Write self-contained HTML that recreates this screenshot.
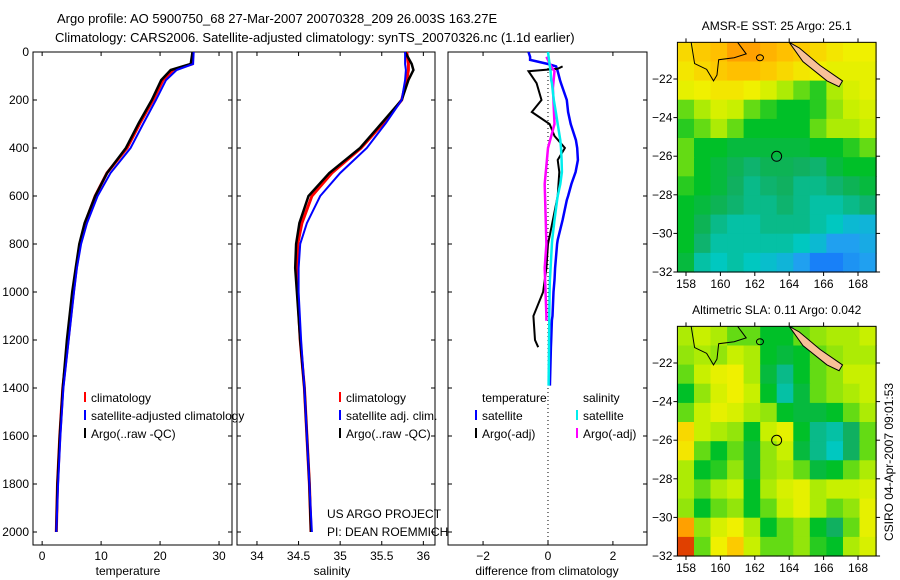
<!DOCTYPE html>
<html><head><meta charset="utf-8"><style>
body{margin:0;background:#fff;}
svg{display:block;font-family:"Liberation Sans",sans-serif;}
</style></head><body>
<svg id="fig" width="900" height="580" viewBox="0 0 900 580" xmlns="http://www.w3.org/2000/svg">
<rect width="900" height="580" fill="#fff"/>
<text x="57" y="23" font-size="13">Argo profile: AO 5900750_68 27-Mar-2007 20070328_209 26.003S 163.27E</text>
<text x="55" y="42" font-size="13">Climatology: CARS2006. Satellite-adjusted climatology: synTS_20070326.nc (1.1d earlier)</text>
<g id="g"></g>
</svg>
<script>
// ---- profile data ----
const depths = [0,50,75,117,200,296,400,504,600,713,800,900,1000,1200,1400,1600,1800,2000];
const tempClim = [25.6,25.4,22.2,20.5,18.8,16.6,14.4,11.0,9.0,7.3,6.4,5.8,5.3,4.4,3.5,3.0,2.6,2.4];
const tempSat  = [25.7,25.6,22.8,21.0,19.3,17.2,15.0,11.6,9.4,7.6,6.6,5.9,5.4,4.5,3.6,3.1,2.7,2.4];
const tempArgo = [25.5,25.2,21.8,20.2,18.6,16.4,14.2,11.0,9.0,7.2,6.3,5.7,5.1,4.2,3.5,3.0,2.6,2.4];
const salClim = [35.80,35.82,35.82,35.80,35.74,35.52,35.25,34.90,34.66,34.54,34.49,34.48,34.49,34.52,34.57,34.60,34.63,34.65];
const salSat  = [35.78,35.78,35.79,35.78,35.74,35.55,35.32,35.00,34.76,34.60,34.52,34.50,34.50,34.53,34.57,34.60,34.63,34.66];
const salArgo = [35.78,35.86,35.88,35.82,35.74,35.50,35.24,34.87,34.62,34.51,34.47,34.46,34.48,34.52,34.57,34.60,34.63,34.65];
// difference panel
const diffDepths = [0,20,33,50,60,80,117,130,200,250,300,367,400,450,500,550,600,617,700,783,800,900,950,1000,1100,1117,1200,1230,1390];
const dTempSat = [-0.6,-0.55,-0.55,0.0,0.25,0.3,0.37,0.4,0.58,0.62,0.7,0.86,0.9,0.92,0.85,0.72,0.62,0.58,0.45,0.3,0.28,0.22,0.2,0.17,0.14,0.12,0.1,0.09,0.06];
const dSalSat = [0,0.02,0.03,0.05,0.06,0.08,0.1,0.12,0.18,0.24,0.3,0.38,0.4,0.42,0.43,0.38,0.3,0.28,0.2,0.13,0.12,0.08,0.06,0.05,0.04,0.04,0.03,0.03,0.02];
const argoD = [60,70,80,130,200,250,300,350,400,450,500,600,700,800,900,1000,1100,1200,1230];
const dTempArgo = [0.45,0.3,-0.6,-0.35,-0.2,-0.5,0.05,0.2,0.52,0.3,0.35,0.3,0.15,0.0,-0.05,-0.15,-0.45,-0.4,-0.3];
const salArgoD = [20,60,80,150,300,400,550,800,900,1100,1120];
const dSalArgo = [-0.05,0.1,0.2,0.15,0.2,0.0,-0.1,-0.05,-0.1,-0.05,-0.05];
const depthTicks = [0,200,400,600,800,1000,1200,1400,1600,1800,2000];
const tempTicks = [0,10,20,30];
const salTicks = [34,34.5,35,35.5,36];
const salTickLabels = ["34","34.5","35","35.5","36"];
const diffTicks = [-2,0,2];
// ---- map data (rows lat 20..31, cols lon 157.5..169) ----
const sstGrid = [
[0.75,0.78,0.8,0.85,0.85,0.82,0.8,0.78,0.75,0.72,0.7,0.7],
[0.72,0.75,0.78,0.8,0.8,0.78,0.75,0.72,0.7,0.68,0.68,0.68],
[0.68,0.7,0.72,0.72,0.7,0.65,0.6,0.55,0.52,0.6,0.65,0.68],
[0.55,0.6,0.65,0.62,0.55,0.52,0.5,0.5,0.52,0.58,0.62,0.65],
[0.52,0.55,0.6,0.55,0.5,0.5,0.5,0.5,0.55,0.6,0.6,0.62],
[0.55,0.5,0.5,0.48,0.48,0.48,0.48,0.48,0.5,0.5,0.52,0.55],
[0.55,0.5,0.48,0.46,0.44,0.46,0.46,0.45,0.44,0.48,0.5,0.5],
[0.52,0.5,0.48,0.45,0.42,0.44,0.45,0.42,0.42,0.44,0.46,0.48],
[0.5,0.48,0.46,0.44,0.42,0.42,0.44,0.42,0.4,0.4,0.42,0.44],
[0.5,0.46,0.42,0.4,0.4,0.42,0.42,0.42,0.4,0.38,0.35,0.34],
[0.5,0.44,0.4,0.4,0.4,0.4,0.4,0.38,0.35,0.3,0.3,0.32],
[0.48,0.4,0.38,0.4,0.38,0.36,0.34,0.3,0.25,0.25,0.28,0.3]];
const slaGrid = [
[0.6,0.62,0.6,0.55,0.55,0.5,0.5,0.55,0.58,0.6,0.6,0.62],
[0.58,0.6,0.58,0.62,0.6,0.5,0.48,0.5,0.55,0.58,0.6,0.6],
[0.55,0.62,0.68,0.7,0.6,0.48,0.42,0.5,0.55,0.58,0.62,0.62],
[0.5,0.58,0.65,0.7,0.62,0.5,0.4,0.48,0.55,0.58,0.6,0.62],
[0.55,0.62,0.68,0.65,0.6,0.58,0.5,0.48,0.48,0.5,0.55,0.6],
[0.75,0.62,0.6,0.58,0.5,0.62,0.68,0.5,0.42,0.4,0.45,0.55],
[0.72,0.55,0.5,0.55,0.48,0.58,0.62,0.48,0.42,0.38,0.45,0.55],
[0.6,0.5,0.52,0.58,0.48,0.58,0.6,0.55,0.48,0.5,0.55,0.6],
[0.6,0.55,0.6,0.62,0.5,0.6,0.65,0.68,0.6,0.62,0.62,0.65],
[0.58,0.5,0.55,0.58,0.5,0.55,0.62,0.68,0.6,0.55,0.58,0.68],
[0.85,0.58,0.65,0.7,0.6,0.5,0.55,0.58,0.5,0.45,0.55,0.68],
[0.95,0.55,0.7,0.78,0.62,0.55,0.55,0.58,0.52,0.5,0.6,0.65]];
const lonTicks = [158,160,162,164,166,168];
const latTicks = [22,24,26,28,30,32];
const argoLon = 163.27, argoLat = 26.003;

const NS='http://www.w3.org/2000/svg';
const G=document.getElementById('g');
function mk(tag,attrs,parent){const e=document.createElementNS(NS,tag);for(const k in attrs)e.setAttribute(k,attrs[k]);(parent||G).appendChild(e);return e;}
function txt(s,x,y,anchor,size,parent){const t=mk('text',{x:x,y:y,'text-anchor':anchor||'start','font-size':size||12},parent);t.textContent=s;return t;}

const yD = d => 52 + d*0.24;
const panels = [
 {x0:33,x1:232,v0:-1.55,v1:32.2,name:'temperature-panel'},
 {x0:237,x1:435,v0:33.76,v1:36.14,name:'salinity-panel'},
 {x0:448,x1:647,v0:-3.08,v1:3.05,name:'difference-panel'}];
function xs(p){return v=>p.x0+(v-p.v0)/(p.v1-p.v0)*(p.x1-p.x0);}

panels.forEach((p,i)=>{
  const g=mk('g',{});
  
  
  const fr=mk('rect',{x:p.x0,y:52,width:p.x1-p.x0,height:493,fill:'none',stroke:'#000','stroke-width':1},g);
  
  
  depthTicks.forEach(d=>{
    mk('line',{x1:p.x0,x2:p.x0+4,y1:yD(d),y2:yD(d),stroke:'#000'},g);
    mk('line',{x1:p.x1,x2:p.x1-4,y1:yD(d),y2:yD(d),stroke:'#000'},g);
    if(i==0){const t=txt(String(d),29,yD(d)+4,'end',12,g);
      
      }
  });
});
function xticks(p,vals,labels){const X=xs(p);vals.forEach((v,k)=>{
  mk('line',{x1:X(v),x2:X(v),y1:545,y2:541,stroke:'#000'});
  mk('line',{x1:X(v),x2:X(v),y1:52,y2:56,stroke:'#000'});
  const t=txt(labels?labels[k]:String(v),X(v),560,'middle',12);
  
  });}
xticks(panels[0],tempTicks);
xticks(panels[1],salTicks,salTickLabels);
xticks(panels[2],diffTicks,diffTicks.map(v=>v<0?'\u2212'+(-v):String(v)));
[['temperature',128],['salinity',332],['difference from climatology',547]].forEach(([s,x])=>{
  const t=txt(s,x,575,'middle',12);
  
  });

function line(p,vals,ds,color,w,name){const X=xs(p);
  const pts=vals.map((v,k)=>X(v).toFixed(1)+','+yD(ds[k]).toFixed(1)).join(' ');
  const l=mk('polyline',{points:pts,fill:'none',stroke:color,'stroke-width':w});
  
  }
line(panels[0],tempClim,depths,'#f00',3,'temp-climatology-line');
line(panels[0],tempArgo,depths,'#000',2.5,'temp-argo-line');
line(panels[0],tempSat,depths,'#00f',2,'temp-satellite-line');
line(panels[1],salClim,depths,'#f00',3,'sal-climatology-line');
line(panels[1],salArgo,depths,'#000',2.5,'sal-argo-line');
line(panels[1],salSat,depths,'#00f',2,'sal-satellite-line');
(function(){const X=xs(panels[2]);const z=mk('line',{x1:X(0),x2:X(0),y1:52,y2:545,stroke:'#000','stroke-dasharray':'1,3'});
  })();
line(panels[2],dTempSat,diffDepths,'#00f',2.5,'diff-temp-satellite-line');
line(panels[2],dTempArgo,argoD,'#000',2,'diff-temp-argo-line');
line(panels[2],dSalArgo,salArgoD,'#f0f',2.5,'diff-sal-argo-line');
line(panels[2],dSalSat,diffDepths,'#0ee',2.5,'diff-sal-satellite-line');

function leg(x,y,color,s){const g=mk('g',{});
  
  
  mk('line',{x1:x,x2:x,y1:y-10,y2:y,stroke:color,'stroke-width':2},g);txt(s,x+6,y,'start',12,g);}
leg(85,402,'#f00','climatology');leg(85,420,'#00f','satellite-adjusted climatology');leg(85,438,'#000','Argo(..raw -QC)');
leg(340,402,'#f00','climatology');leg(340,420,'#00f','satellite adj. clim.');leg(340,438,'#000','Argo(..raw -QC)');
txt('temperature',482,402,'start',12);txt('salinity',583,402,'start',12);
leg(476,420,'#00f','satellite');leg(476,438,'#000','Argo(-adj)');
leg(577,420,'#0ee','satellite');leg(577,438,'#f0f','Argo(-adj)');
txt('US ARGO PROJECT',327,518,'start',12);txt('PI: DEAN ROEMMICH',327,536,'start',12);

// ---- maps ----
const stops=[[0.2,[16,96,255]],[0.3,[32,160,240]],[0.38,[0,200,192]],[0.45,[16,176,96]],[0.5,[0,192,40]],[0.56,[120,224,16]],[0.62,[200,240,0]],[0.7,[240,240,0]],[0.8,[255,192,0]],[0.9,[255,128,0]],[1.0,[192,0,0]]];
function cmap(v){if(v<=stops[0][0])return 'rgb('+stops[0][1]+')';
  for(let i=1;i<stops.length;i++){if(v<=stops[i][0]){const a=stops[i-1],b=stops[i],t=(v-a[0])/(b[0]-a[0]);
    return 'rgb('+a[1].map((c,k)=>Math.round(c+(b[1][k]-c)*t)).join(',')+')';}}
  return 'rgb('+stops[stops.length-1][1]+')';}
function map(grid,top,title,name){
  const g=mk('g',{});
  
  
  const X=lon=>686+(lon-158)*17.2, Y=lat=>top+37+(lat-22)*19.3;
  const lon0=157.5,lon1=169.05,lat0=20.1,lat1=32;
  const nr=grid.length,nc=grid[0].length,dl=(lon1-lon0)/nc,dt=(lat1-lat0)/nr;
  grid.forEach((row,r)=>row.forEach((v,c)=>{
    const x=X(lon0+c*dl),y=Y(lat0+r*dt);
    const cell=mk('rect',{x:x.toFixed(1),y:y.toFixed(1),width:(X(lon0+(c+1)*dl)-x+0.6).toFixed(1),height:(Y(lat0+(r+1)*dt)-y+0.6).toFixed(1),fill:cmap(v)},g);
    
    
  }));
  mk('path',{d:`M${X(158.3)},${Y(20.1)} L${X(158.5)},${Y(21.2)} L${X(159.2)},${Y(21.5)} L${X(159.6)},${Y(22.1)} L${X(159.8)},${Y(21.8)} L${X(159.9)},${Y(21)} L${X(160.8)},${Y(20.9)} L${X(161.5)},${Y(20.7)} L${X(161)},${Y(20.1)}`,fill:'none',stroke:'#000','stroke-width':1},g);
  mk('ellipse',{cx:X(162.3),cy:Y(20.9),rx:3.5,ry:3,fill:'none',stroke:'#000'},g);
  const nc_=mk('path',{d:`M${X(164)},${Y(20.1)} L${X(164.6)},${Y(20.4)} L${X(165.8)},${Y(21.3)} L${X(167.1)},${Y(22.1)} L${X(166.9)},${Y(22.4)} L${X(166.2)},${Y(22.1)} L${X(164.8)},${Y(21.1)} Z`,fill:'#f8c098',stroke:'#000','stroke-width':1},g);
  
  
  const fr=mk('rect',{x:X(lon0),y:Y(lat0),width:X(lon1)-X(lon0),height:Y(lat1)-Y(lat0),fill:'none',stroke:'#000'},g);
  
  
  lonTicks.forEach(l=>{mk('line',{x1:X(l),x2:X(l),y1:Y(lat1),y2:Y(lat1)+4,stroke:'#000'},g);
    mk('line',{x1:X(l),x2:X(l),y1:Y(lat0),y2:Y(lat0)-4,stroke:'#000'},g);
    const t=txt(String(l),X(l),Y(lat1)+16,'middle',12,g);
    
    });
  latTicks.forEach(l=>{mk('line',{x1:X(lon0),x2:X(lon0)-4,y1:Y(l),y2:Y(l),stroke:'#000'},g);
    mk('line',{x1:X(lon1),x2:X(lon1)+4,y1:Y(l),y2:Y(l),stroke:'#000'},g);
    const t=txt('\u2212'+l,X(lon0)-5,Y(l)+4,'end',12,g);
    
    });
  const m=mk('circle',{cx:X(argoLon),cy:Y(argoLat),r:5,fill:'none',stroke:'#000'},g);
  
  
  const t=txt(title,(X(lon0)+X(lon1))/2,top-12,'middle',12,g);
  
  
}
map(sstGrid,42,'AMSR-E SST: 25 Argo: 25.1','sst-map');
map(slaGrid,326,'Altimetric SLA: 0.11 Argo: 0.042','sla-map');
const st=txt('CSIRO 04-Apr-2007 09:01:53',0,0,'middle',12);
st.setAttribute('transform','translate(893,462) rotate(-90)');


</script>
</body></html>
